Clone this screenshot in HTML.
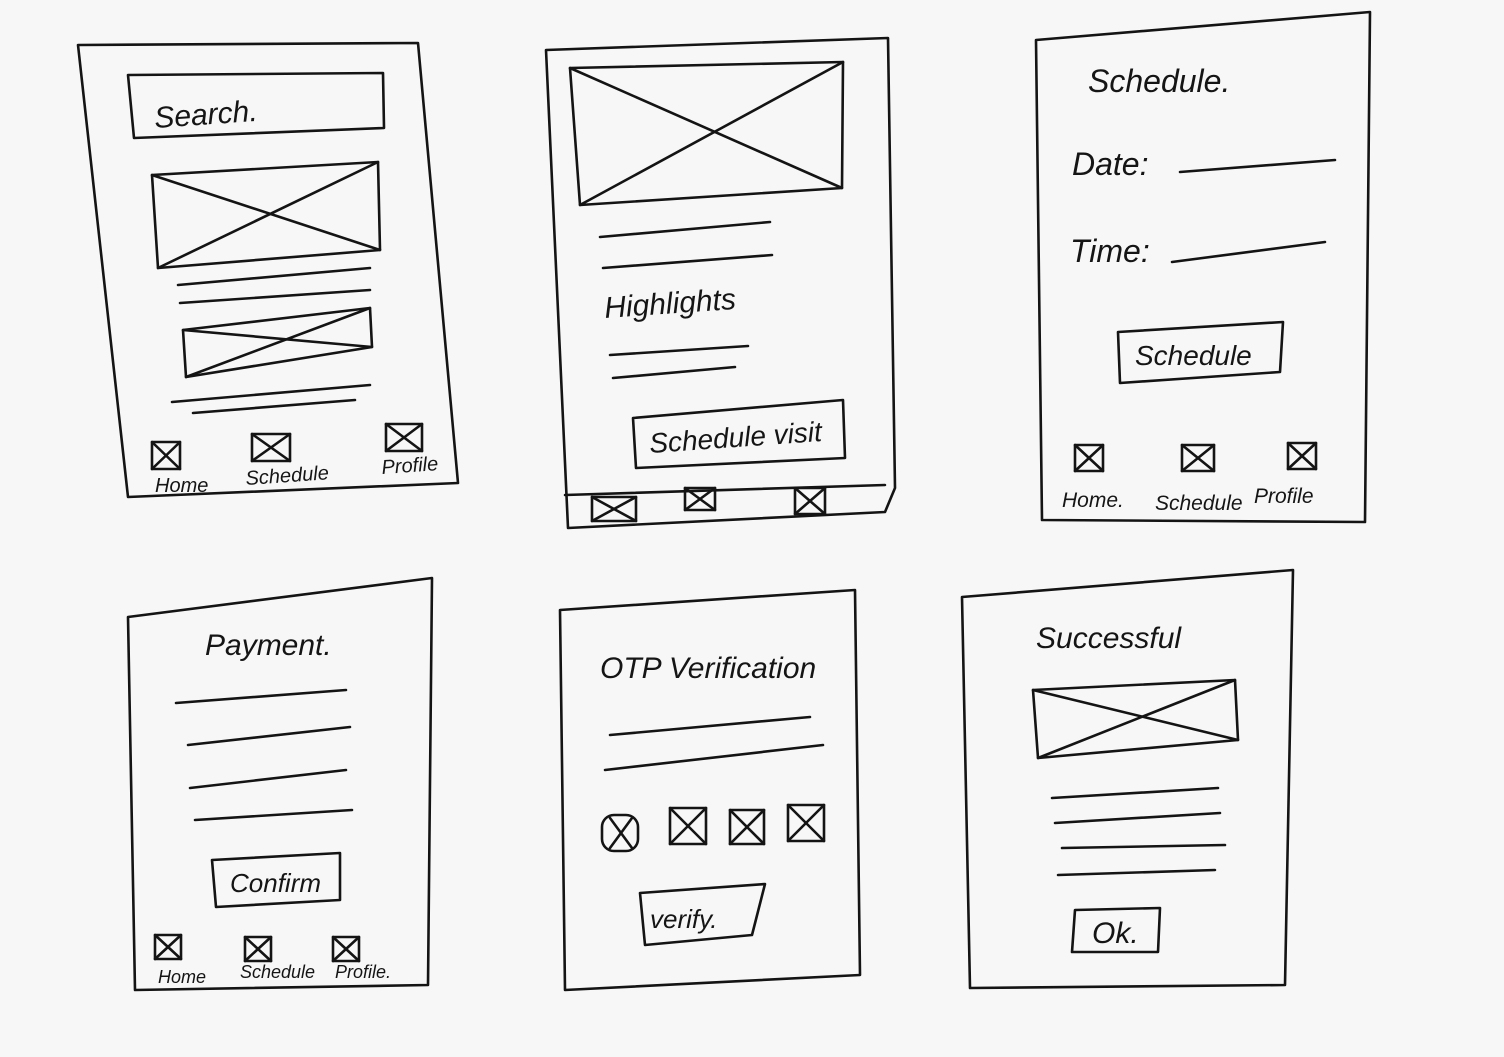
<!DOCTYPE html>
<html><head><meta charset="utf-8"><style>
html,body{margin:0;padding:0;background:#f6f6f6;}
svg{display:block}
text{font-family:"Liberation Sans",sans-serif;fill:#151515;font-style:italic}
</style></head><body>
<svg width="1504" height="1057" viewBox="0 0 1504 1057" xmlns="http://www.w3.org/2000/svg">
<rect width="1504" height="1057" fill="#f7f7f7"/>
<g fill="none" stroke="#141414" stroke-width="2.6" stroke-linecap="round" stroke-linejoin="round">
<!-- Frame 1 -->
<polygon points="78,45 418,43 458,483 128,497"/>
<polygon points="128,75 383,73 384,128 134,138"/>
<polygon points="152,175 378,162 380,250 158,268"/>
<line x1="152" y1="175" x2="380" y2="250"/><line x1="158" y1="268" x2="378" y2="162"/>
<line x1="178" y1="285" x2="370" y2="268"/><line x1="180" y1="303" x2="370" y2="290"/>
<polygon points="183,330 370,308 372,347 186,377"/>
<line x1="183" y1="330" x2="372" y2="347"/><line x1="186" y1="377" x2="370" y2="308"/>
<line x1="172" y1="402" x2="370" y2="385"/><line x1="193" y1="413" x2="355" y2="400"/>
<rect x="152" y="442" width="28" height="27"/><line x1="152" y1="442" x2="180" y2="469"/><line x1="180" y1="442" x2="152" y2="469"/>
<rect x="252" y="434" width="38" height="27"/><line x1="252" y1="434" x2="290" y2="461"/><line x1="290" y1="434" x2="252" y2="461"/>
<rect x="386" y="424" width="36" height="27"/><line x1="386" y1="424" x2="422" y2="451"/><line x1="422" y1="424" x2="386" y2="451"/>
<!-- Frame 2 -->
<polygon points="546,50 888,38 895,488 885,512 568,528"/>
<line x1="565" y1="495" x2="885" y2="485"/>
<polygon points="570,68 843,62 842,188 580,205"/>
<line x1="570" y1="68" x2="842" y2="188"/><line x1="580" y1="205" x2="843" y2="62"/>
<line x1="600" y1="237" x2="770" y2="222"/><line x1="603" y1="268" x2="772" y2="255"/>
<line x1="610" y1="355" x2="748" y2="346"/><line x1="613" y1="378" x2="735" y2="367"/>
<polygon points="633,418 843,400 845,458 636,468"/>
<rect x="592" y="497" width="44" height="24"/><line x1="592" y1="497" x2="636" y2="521"/><line x1="636" y1="497" x2="592" y2="521"/>
<rect x="685" y="488" width="30" height="22"/><line x1="685" y1="488" x2="715" y2="510"/><line x1="715" y1="488" x2="685" y2="510"/>
<rect x="795" y="488" width="30" height="26"/><line x1="795" y1="488" x2="825" y2="514"/><line x1="825" y1="488" x2="795" y2="514"/>
<!-- Frame 3 -->
<polygon points="1036,40 1370,12 1365,522 1042,520"/>
<line x1="1180" y1="172" x2="1335" y2="160"/>
<line x1="1172" y1="262" x2="1325" y2="242"/>
<polygon points="1118,332 1283,322 1280,372 1120,383"/>
<rect x="1075" y="445" width="28" height="26"/><line x1="1075" y1="445" x2="1103" y2="471"/><line x1="1103" y1="445" x2="1075" y2="471"/>
<rect x="1182" y="445" width="32" height="26"/><line x1="1182" y1="445" x2="1214" y2="471"/><line x1="1214" y1="445" x2="1182" y2="471"/>
<rect x="1288" y="443" width="28" height="26"/><line x1="1288" y1="443" x2="1316" y2="469"/><line x1="1316" y1="443" x2="1288" y2="469"/>
<!-- Frame 4 -->
<polygon points="128,617 432,578 428,985 135,990"/>
<line x1="176" y1="703" x2="346" y2="690"/><line x1="188" y1="745" x2="350" y2="727"/>
<line x1="190" y1="788" x2="346" y2="770"/><line x1="195" y1="820" x2="352" y2="810"/>
<polygon points="212,860 340,853 340,900 216,907"/>
<rect x="155" y="935" width="26" height="24"/><line x1="155" y1="935" x2="181" y2="959"/><line x1="181" y1="935" x2="155" y2="959"/>
<rect x="245" y="937" width="26" height="24"/><line x1="245" y1="937" x2="271" y2="961"/><line x1="271" y1="937" x2="245" y2="961"/>
<rect x="333" y="937" width="26" height="24"/><line x1="333" y1="937" x2="359" y2="961"/><line x1="359" y1="937" x2="333" y2="961"/>
<!-- Frame 5 -->
<polygon points="560,610 855,590 860,975 565,990"/>
<line x1="610" y1="735" x2="810" y2="717"/><line x1="605" y1="770" x2="823" y2="745"/>
<rect x="602" y="815" width="36" height="36" rx="12"/><line x1="610" y1="818" x2="632" y2="848"/><line x1="632" y1="818" x2="610" y2="848"/>
<rect x="670" y="808" width="36" height="36"/><line x1="670" y1="808" x2="706" y2="844"/><line x1="706" y1="808" x2="670" y2="844"/>
<rect x="730" y="810" width="34" height="34"/><line x1="730" y1="810" x2="764" y2="844"/><line x1="764" y1="810" x2="730" y2="844"/>
<rect x="788" y="805" width="36" height="36"/><line x1="788" y1="805" x2="824" y2="841"/><line x1="824" y1="805" x2="788" y2="841"/>
<polygon points="640,893 765,884 752,935 645,945"/>
<!-- Frame 6 -->
<polygon points="962,597 1293,570 1285,985 970,988"/>
<polygon points="1033,690 1235,680 1238,740 1038,758"/>
<line x1="1033" y1="690" x2="1238" y2="740"/><line x1="1038" y1="758" x2="1235" y2="680"/>
<line x1="1052" y1="798" x2="1218" y2="788"/><line x1="1055" y1="823" x2="1220" y2="813"/>
<line x1="1062" y1="848" x2="1225" y2="845"/><line x1="1058" y1="875" x2="1215" y2="870"/>
<polygon points="1075,910 1160,908 1158,952 1072,952"/>
</g>
<text x="155" y="128" font-size="30" transform="rotate(-4 155 128)">Search.</text>
<text x="155" y="492" font-size="20">Home</text>
<text x="246" y="485" font-size="20" transform="rotate(-4 246 485)">Schedule</text>
<text x="382" y="474" font-size="20" transform="rotate(-4 382 474)">Profile</text>
<text x="605" y="318" font-size="30" transform="rotate(-4 605 318)">Highlights</text>
<text x="650" y="453" font-size="28" transform="rotate(-4 650 453)">Schedule visit</text>
<text x="1088" y="92" font-size="32">Schedule.</text>
<text x="1072" y="175" font-size="32">Date:</text>
<text x="1070" y="262" font-size="32">Time:</text>
<text x="1135" y="365" font-size="28">Schedule</text>
<text x="1062" y="507" font-size="21">Home.</text>
<text x="1155" y="510" font-size="21">Schedule</text>
<text x="1254" y="503" font-size="21">Profile</text>
<text x="205" y="655" font-size="30">Payment.</text>
<text x="230" y="892" font-size="26">Confirm</text>
<text x="158" y="983" font-size="18">Home</text>
<text x="240" y="978" font-size="18">Schedule</text>
<text x="335" y="978" font-size="18">Profile.</text>
<text x="600" y="678" font-size="30">OTP Verification</text>
<text x="650" y="928" font-size="26">verify.</text>
<text x="1036" y="648" font-size="30">Successful</text>
<text x="1092" y="943" font-size="30">Ok.</text>
</svg>
</body></html>
